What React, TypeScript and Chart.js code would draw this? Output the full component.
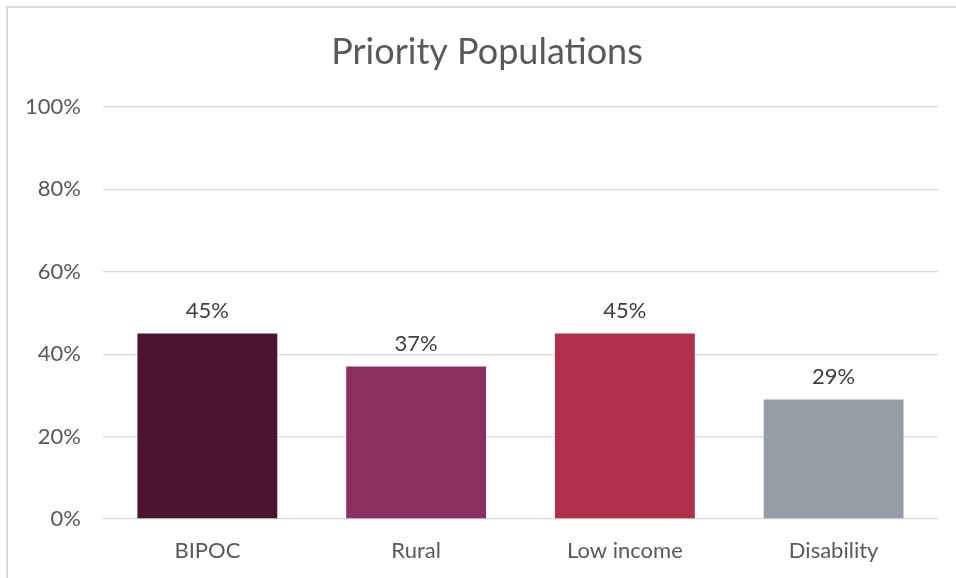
import React, { useEffect, useRef } from "react";
import { Chart, registerables } from "chart.js";

Chart.register(...registerables);

const categories = ["BIPOC", "Rural", "Low income", "Disability"];
const values = [45, 37, 45, 29];
const barColors = ["#4B1431", "#8C2F60", "#B0304A", "#979DA6"];
const yTicks = [0, 20, 40, 60, 80, 100];
const titleText = "Priority Populations";

const FONT = "Lato, 'Noto Sans', sans-serif";

const dataLabels = {
  id: "dataLabels",
  afterDatasetsDraw(chart: any) {
    const ctx = chart.ctx;
    const meta = chart.getDatasetMeta(0);
    ctx.save();
    ctx.font = `22px ${FONT}`;
    ctx.fillStyle = "#404040";
    ctx.textAlign = "center";
    ctx.textBaseline = "bottom";
    meta.data.forEach((el: any, i: number) => {
      const v = chart.data.datasets[0].data[i];
      ctx.fillText(`${v}%`, el.x, el.y - 12);
    });
    ctx.restore();
  },
};

const titlePlugin = {
  id: "offsetTitle",
  afterDraw(chart: any) {
    const ctx = chart.ctx;
    ctx.save();
    ctx.font = `36px ${FONT}`;
    ctx.fillStyle = "#595959";
    ctx.textAlign = "center";
    ctx.textBaseline = "middle";
    ctx.fillText(titleText, 487, 52);
    ctx.restore();
  },
};

export default function App() {
  const ref = useRef<HTMLCanvasElement>(null);
  useEffect(() => {
    const chart = new Chart(ref.current!, {
      type: "bar",
      data: {
        labels: categories,
        datasets: [
          {
            data: values,
            backgroundColor: barColors,
            categoryPercentage: 0.67,
            barPercentage: 1,
          },
        ],
      },
      options: {
        animation: false,
        responsive: true,
        maintainAspectRatio: false,
        layout: { padding: { left: 0, right: 18, top: 107, bottom: 0 } },
        plugins: {
          legend: { display: false },
          tooltip: { enabled: false },
          title: { display: false },
        },
        scales: {
          x: {
            afterFit: (s: any) => {
              s.height = 59;
            },
            grid: { display: false, drawTicks: false },
            border: { display: false },
            ticks: {
              color: "#595959",
              font: { family: FONT, size: 22 },
              padding: 19,
            },
          },
          y: {
            min: 0,
            max: 100,
            afterFit: (s: any) => {
              s.width = 103;
            },
            afterBuildTicks: (s: any) => {
              s.ticks = yTicks.map((v) => ({ value: v }));
            },
            grid: { color: "#d9d9d9", lineWidth: 1.3, drawTicks: false },
            border: { display: false },
            ticks: {
              color: "#595959",
              font: { family: FONT, size: 22 },
              padding: 22,
              callback: (v: any) => `${v}%`,
            },
          },
        },
      },
      plugins: [dataLabels, titlePlugin],
    });
    return () => chart.destroy();
  }, []);
  return (
    <div
      style={{
        position: "absolute",
        left: 0,
        top: 0,
        width: 956,
        height: 578,
        background: "#fff",
        overflow: "hidden",
      }}
    >
      <div
        style={{
          position: "absolute",
          left: 6,
          top: 6,
          width: 980,
          height: 600,
          borderLeft: "2px solid #d9d9d9",
          borderTop: "2px solid #d9d9d9",
        }}
      />
      <div style={{ position: "absolute", left: 0, top: 0, width: 956, height: 578 }}>
        <canvas ref={ref} />
      </div>
    </div>
  );
}
